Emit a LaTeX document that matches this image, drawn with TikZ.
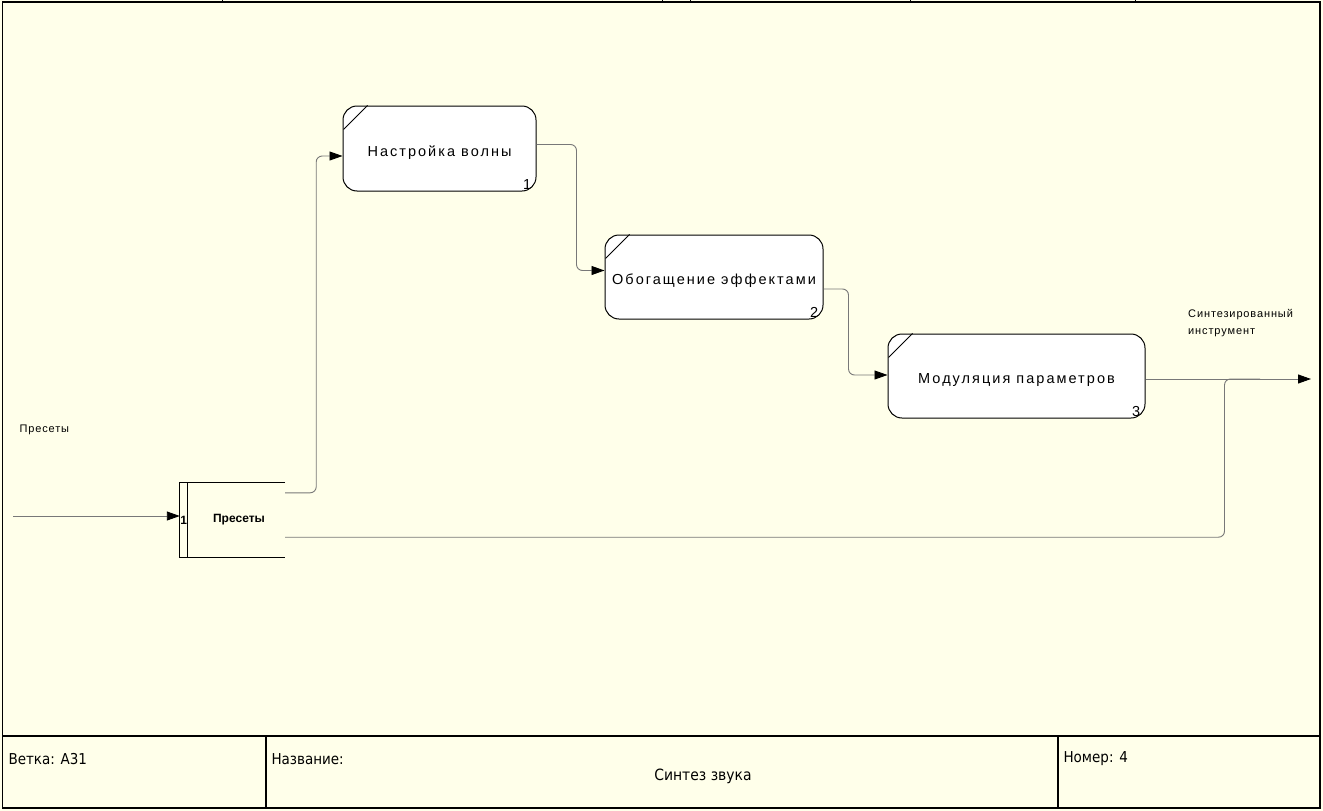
\documentclass[tikz,border=0pt]{standalone}
\usepackage{fontspec}
\setmainfont{Liberation Sans}
\newfontfamily\lblfont[LetterSpace=14]{Liberation Sans}
\newfontfamily\smfont[LetterSpace=8]{Liberation Sans}
\newfontfamily\ftfont{DejaVu Sans Condensed}
\usetikzlibrary{arrows.meta,calc}
\definecolor{bgy}{RGB}{255,255,234}
\definecolor{lng}{RGB}{120,120,120}
\begin{document}
\begin{tikzpicture}[x=1pt,y=-1pt,
  proc/.style={draw=black,line width=1pt,fill=white,rounded corners=14pt,inner sep=0pt},
  conn/.style={draw=lng,line width=0.9pt,rounded corners=6pt},
  tip/.style={-{Triangle[length=13pt,width=9pt,color=black]}},
  plbl/.style={font=\lblfont\fontsize{14.5}{16}\selectfont},
  slbl/.style={font=\smfont\fontsize{11}{13}\selectfont,align=left},
  ftxt/.style={font=\ftfont\fontsize{15}{17}\selectfont,anchor=west},
  frame/.style={draw=black,line width=1.6pt}]
\fill[bgy] (0,0) rectangle (1323,811);
\useasboundingbox (0,0) rectangle (1323,811);
% frame
\draw[frame] (2.5,2) rectangle (1320,808);
\draw[frame] (2.5,736) -- (1320,736);
\draw[frame] (266,736) -- (266,808);
\draw[frame] (1058,736) -- (1058,808);
\foreach \tx in {222,662,690,910,1135} \draw[black,line width=0.8pt] (\tx,0) -- (\tx,2);
% footer
\node[ftxt] (ft1) at (5,759) {Ветка: A31};
\node[ftxt] (ft2) at (268,759) {Название:};
\node[font=\ftfont\fontsize{15.5}{17}\selectfont] (ft3) at (703,776) {Синтез звука};
\node[ftxt] (ft4) at (1060,759) {Номер: 4};
% processes
\node[proc,minimum width=193pt,minimum height=85pt] (b1) at (439.5,148.5) {};
\node[plbl] (t1) at (439.5,153) {Настройка волны};
\node[proc,minimum width=218pt,minimum height=84pt] (b2) at (714,277) {};
\node[plbl] (t2) at (714,281) {Обогащение эффектами};
\node[proc,minimum width=257pt,minimum height=84pt] (b3) at (1016.5,376) {};
\node[plbl] (t3) at (1016.5,380) {Модуляция параметров};
\foreach \b/\n in {b1/1,b2/2,b3/3}{
  \draw[black,line width=0.8pt] ([yshift=-24pt,xshift=1pt]\b.north west) -- ([xshift=25pt]\b.north west);
  \node[font=\fontsize{14.5}{14.5}\selectfont,anchor=south east,inner sep=0pt] (n\n) at ([xshift=-5pt,yshift=2pt]\b.south east) {\n};
}
% data store
\node[minimum width=105pt,minimum height=74pt,inner sep=0pt] (ds) at (232.5,520) {};
\draw[black,line width=1pt] (ds.north east) -- (ds.north west) -- (ds.south west) -- (ds.south east);
\draw[black,line width=1pt] ([xshift=8pt]ds.north west) -- ([xshift=8pt]ds.south west);
\node[font=\bfseries\fontsize{12}{14}\selectfont] (dsn) at ([xshift=4pt]ds.west) {1};
\node[font=\bfseries\fontsize{12}{14}\selectfont] (dst) at ([xshift=6.5pt]ds.center) {Пресеты};
% connectors
\coordinate (in) at (13,516);
\coordinate (out) at (1311,379);
\coordinate (jn) at (1260,379);
\draw[conn,tip] (in) -- ([yshift=4pt]ds.west);
\node[slbl,anchor=west] (lin) at (16,430) {Пресеты};
\draw[conn,tip] ([yshift=-10pt]ds.north east) -- ++(31pt,0) |- ([yshift=-7.5pt]b1.west);
\draw[conn,tip] ([yshift=4pt]b1.east) -- ++(40pt,0) |- ([yshift=6.5pt]b2.west);
\draw[conn,tip] ([yshift=-12pt]b2.east) -- ++(25pt,0) |- ([yshift=1pt]b3.west);
\draw[conn,tip] ([yshift=-3pt]b3.east) -- (out);
\draw[conn] ([yshift=20pt]ds.south east) -| ($(b3.east)+(79,3)$) -- (jn);
\node[slbl,anchor=north west,inner sep=0pt] (lout) at (1188,309) {Синтезированный\\[4pt]инструмент};
\end{tikzpicture}
\end{document}
